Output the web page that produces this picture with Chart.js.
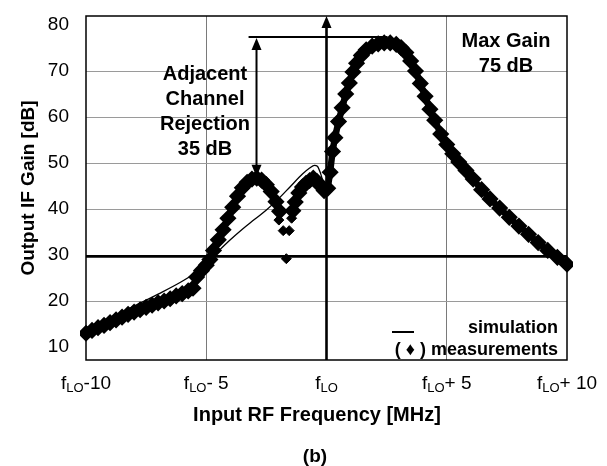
<!DOCTYPE html>
<html>
<head>
<meta charset="utf-8">
<script src="https://cdn.jsdelivr.net/npm/chart.js@4.4.1/dist/chart.umd.min.js"></script>
<style>
  html, body { margin: 0; padding: 0; background: #fff; }
  #wrap { width: 607px; height: 466px; }
</style>
</head>
<body>
<div id="wrap"><canvas id="gainChart" width="607" height="466"></canvas></div>
<script>
// RF offset from fLO in MHz, output IF gain in dB
const measFreq = [-10, -9.75, -9.5, -9.25, -9, -8.75, -8.5, -8.25, -8, -7.75, -7.5, -7.25, -7, -6.75, -6.5, -6.25, -6, -5.75, -5.55,
  -5.5,
  -5.4, -5.2, -5, -4.85, -4.7, -4.5, -4.3, -4.1, -3.9, -3.7, -3.5, -3.3, -3.1, -2.9, -2.7, -2.5, -2.3, -2.1, -1.95,
  -1.7,
  -1.4, -1.3, -1.15, -1, -0.85, -0.7, -0.55, -0.4, -0.25, -0.1, 0.05, 0.15, 0.25, 0.35, 0.5, 0.65, 0.8, 0.95, 1.1, 1.25,
  1.45, 1.65, 1.9, 2.15, 2.4, 2.65, 2.9, 3.1, 3.3, 3.5, 3.7, 3.9, 4.1, 4.3, 4.5, 4.75, 5, 5.25, 5.5, 5.8, 6.1, 6.45,
  6.8, 7.2, 7.6, 8, 8.4, 8.8, 9.2, 9.6, 10];
const measGain = [13.0, 13.6, 14.2, 14.7, 15.3, 15.9, 16.5, 17.1, 17.6, 18.1, 18.6, 19.1, 19.6, 20.0, 20.5, 21.1, 21.6, 22.2, 22.8,
  null,
  25.2, 26.6, 27.8, 29.0, 31.0, 33.3, 35.5, 38.0, 40.4, 42.8, 44.6, 45.8, 46.5, 46.7, 46.3, 45.3, 43.8, 41.6, 39.5,
  null,
  39.6, 41.5, 43.5, 44.8, 45.6, 46.2, 46.7, 46.0, 45.0, 44.0, 44.5, 48.0, 52.5, 55.5, 59.0, 62.0, 65.0, 67.4, 69.8, 71.7,
  73.4, 74.6, 75.4, 75.9, 76.1, 76.1, 75.8, 75.1, 74.0, 72.2, 70.0, 67.3, 64.5, 61.7, 59.3, 56.3, 54.0, 52.0, 50.2, 48.4, 46.5, 44.2,
  42.2, 40.2, 38.2, 36.3, 34.5, 32.7, 31.0, 29.5, 28.0];

// isolated measured points in the notch between the two lower peaks
const notchFreq = [-1.98, -1.8, -1.55, -1.67, -1.45];
const notchGain = [37.6, 35.3, 35.3, 29.2, 38.0];

const simFreq = [-10, -9, -8, -7, -6, -5.5, -5, -4.5, -4, -3.5, -3, -2.5, -2, -1.5, -1, -0.7, -0.5, -0.38, -0.25, -0.12, 0,
  0.15, 0.35, 0.6, 0.9, 1.2, 1.6, 2, 2.5, 3, 3.4, 3.8, 4.2, 4.6, 5, 5.5, 6, 7, 8, 9, 10];
const simGain = [14.2, 16.4, 18.9, 21.5, 24.3, 26.0, 28.2, 30.8, 33.3, 35.6, 37.7, 39.8, 42.2, 44.9, 47.6, 48.9, 49.5, 49.3, 47.8, 45.5, 44.3,
  48.5, 54.5, 60.5, 66.5, 71.2, 74.4, 75.6, 76.0, 75.6, 73.8, 69.0, 63.0, 58.0, 54.0, 50.2, 47.2, 41.0, 36.4, 32.3, 28.3];

const xTicks = [-10, -5, 0, 5, 10];
const xTickSuffix = ['-10', '- 5', '', '+ 5', '+ 10'];
const yTicks = [10, 20, 30, 40, 50, 60, 70, 80];

// annotation levels
const refLevel = 29.7;
const rejTop = 77.4, rejBottom = 47.0, rejX = -2.91;
const rejLineFrom = -3.24, rejLineTo = 2.54;

const FONT = "'Liberation Sans', Arial, sans-serif";

function pts(xs, ys) {
  return xs.map((x, i) => ({ x: x, y: ys[i] }));
}

function arrowHead(ctx, x, y, dir) {
  // dir: -1 points up, 1 points down
  ctx.beginPath();
  ctx.moveTo(x, y);
  ctx.lineTo(x - 5, y - dir * 12);
  ctx.lineTo(x + 5, y - dir * 12);
  ctx.closePath();
  ctx.fill();
}

const overlay = {
  id: 'overlay',
  beforeDatasetsDraw(chart) {
    const { ctx, chartArea: a, scales: { x, y } } = chart;
    ctx.save();
    ctx.strokeStyle = '#000';
    ctx.fillStyle = '#000';
    // thick reference level
    ctx.lineWidth = 2.6;
    const yr = y.getPixelForValue(refLevel);
    ctx.beginPath();
    ctx.moveTo(a.left, yr);
    ctx.lineTo(a.right, yr);
    ctx.stroke();
    // fLO marker with arrow
    const x0 = x.getPixelForValue(0);
    ctx.beginPath();
    ctx.moveTo(x0, a.bottom);
    ctx.lineTo(x0, a.top + 8);
    ctx.stroke();
    arrowHead(ctx, x0, a.top, -1);
    ctx.restore();
  },
  afterDatasetsDraw(chart) {
    const { ctx, chartArea: a, scales: { x, y } } = chart;
    ctx.save();
    ctx.strokeStyle = '#000';
    ctx.fillStyle = '#000';
    ctx.lineWidth = 1.5;
    ctx.strokeRect(a.left, a.top, a.right - a.left, a.bottom - a.top);

    // adjacent channel rejection arrow
    ctx.lineWidth = 2;
    const yt = y.getPixelForValue(rejTop);
    const yb = y.getPixelForValue(rejBottom);
    const xr = x.getPixelForValue(rejX);
    ctx.beginPath();
    ctx.moveTo(x.getPixelForValue(rejLineFrom), yt);
    ctx.lineTo(x.getPixelForValue(rejLineTo), yt);
    ctx.moveTo(xr, yt + 8);
    ctx.lineTo(xr, yb - 8);
    ctx.stroke();
    arrowHead(ctx, xr, yt + 1, -1);
    arrowHead(ctx, xr, yb, 1);

    ctx.textAlign = 'center';
    ctx.textBaseline = 'middle';
    ctx.font = 'bold 20px ' + FONT;
    ['Adjacent', 'Channel', 'Rejection', '35 dB'].forEach((t, i) => ctx.fillText(t, 205, 74 + i * 25));
    ctx.fillText('Max Gain', 506, 41);
    ctx.fillText('75 dB', 506, 66);

    // x tick labels with subscript
    xTicks.forEach((v, i) => {
      const px = x.getPixelForValue(v);
      ctx.font = '19px ' + FONT;
      const wf = ctx.measureText('f').width;
      const ws = ctx.measureText(xTickSuffix[i]).width;
      ctx.font = '13px ' + FONT;
      const wl = ctx.measureText('LO').width;
      let sx = px - (wf + wl + ws) / 2;
      ctx.textAlign = 'left';
      ctx.textBaseline = 'alphabetic';
      ctx.font = '19px ' + FONT;
      ctx.fillText('f', sx, 389);
      ctx.font = '13px ' + FONT;
      ctx.fillText('LO', sx + wf, 392);
      ctx.font = '19px ' + FONT;
      ctx.fillText(xTickSuffix[i], sx + wf + wl, 389);
    });

    // axis titles
    ctx.textAlign = 'center';
    ctx.textBaseline = 'middle';
    ctx.font = 'bold 20px ' + FONT;
    ctx.fillText('Input RF Frequency [MHz]', 317, 415);
    ctx.font = 'bold 19px ' + FONT;
    ctx.fillText('(b)', 315, 457);
    ctx.save();
    ctx.translate(29, 188);
    ctx.rotate(-Math.PI / 2);
    ctx.fillText('Output IF Gain [dB]', 0, 0);
    ctx.restore();

    // legend
    ctx.font = 'bold 18px ' + FONT;
    ctx.textAlign = 'right';
    ctx.fillText('simulation', 558, 328);
    ctx.fillText('( \u2666 ) measurements', 558, 350);
    ctx.lineWidth = 2;
    ctx.beginPath();
    ctx.moveTo(392, 332);
    ctx.lineTo(414, 332);
    ctx.stroke();
    ctx.restore();
  }
};

new Chart(document.getElementById('gainChart'), {
  type: 'scatter',
  data: {
    datasets: [
      {
        label: 'measurements',
        data: pts(measFreq, measGain),
        showLine: true,
        spanGaps: false,
        borderColor: '#000',
        backgroundColor: '#000',
        borderWidth: 6.5,
        borderJoinStyle: 'round',
        borderCapStyle: 'round',
        pointStyle: 'rectRot',
        pointRadius: 4,
        pointHoverRadius: 4,
        clip: 6,
        order: 0
      },
      {
        label: 'measurements (notch)',
        data: pts(notchFreq, notchGain),
        showLine: false,
        borderColor: '#000',
        backgroundColor: '#000',
        pointStyle: 'rectRot',
        pointRadius: 5,
        order: 0
      },
      {
        label: 'simulation',
        data: pts(simFreq, simGain),
        showLine: true,
        borderColor: '#000',
        borderWidth: 1.3,
        pointRadius: 0,
        cubicInterpolationMode: 'monotone',
        clip: 2,
        order: 1
      }
    ]
  },
  options: {
    responsive: false,
    animation: false,
    events: [],
    layout: { padding: { left: 0, right: 40, top: 16, bottom: 0 } },
    plugins: { legend: { display: false }, tooltip: { enabled: false } },
    scales: {
      x: {
        type: 'linear',
        min: -10,
        max: 10,
        afterFit(s) { s.height = 106; s.paddingLeft = 0; s.paddingRight = 0; },
        afterBuildTicks(s) { s.ticks = xTicks.map(v => ({ value: v })); },
        ticks: { display: false },
        border: { display: false },
        grid: {
          drawTicks: false,
          lineWidth: 1,
          color: c => (c.tick && (c.tick.value === 5 || c.tick.value === -5)) ? '#7a7a7a' : 'rgba(0,0,0,0)'
        }
      },
      y: {
        type: 'linear',
        min: 7.18,
        max: 81.96,
        afterFit(s) { s.width = 86; s.paddingTop = 0; s.paddingBottom = 0; },
        afterBuildTicks(s) { s.ticks = yTicks.map(v => ({ value: v })); },
        border: { display: false },
        grid: {
          drawTicks: false,
          lineWidth: 1,
          color: c => (c.tick && [10, 30, 80].indexOf(c.tick.value) < 0) ? '#9a9a9a' : 'rgba(0,0,0,0)'
        },
        ticks: {
          color: '#000',
          padding: 17,
          font: { family: FONT, size: 19 }
        }
      }
    }
  },
  plugins: [overlay]
});
</script>
</body>
</html>
